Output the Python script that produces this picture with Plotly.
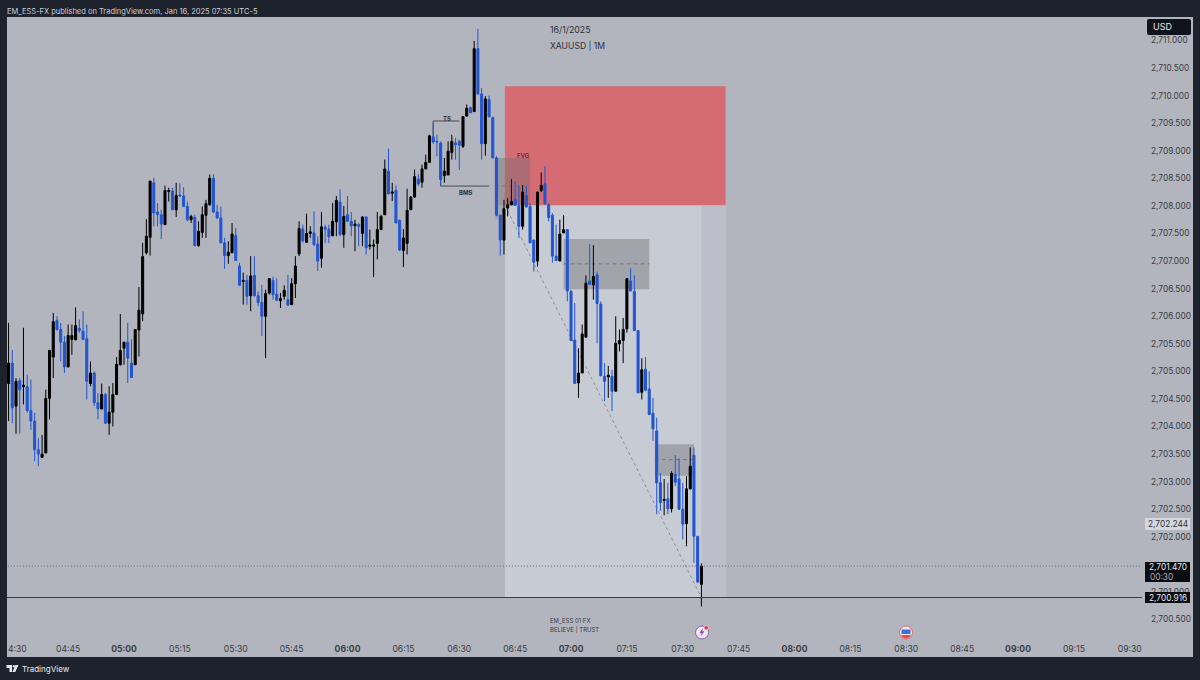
import pandas as pd
import plotly.graph_objects as go

start_time = "2025-01-16 04:29"
opens = [2704.78,2705.15,2704.37,2704.83,2704.72,2704.72,2704.29,2704.10,2703.58,2703.44,2703.52,2704.51,2705.26,2705.92,2705.76,2705.53,2705.08,2705.58,2705.57,2705.78,2705.73,2705.59,2704.78,2704.97,2704.43,2704.32,2704.58,2704.06,2704.26,2704.58,2705.12,2705.42,2705.53,2705.15,2705.12,2705.75,2706.04,2707.15,2707.43,2708.42,2707.89,2707.84,2707.66,2708.26,2708.27,2707.93,2708.20,2708.18,2707.99,2707.75,2707.79,2707.28,2707.52,2707.83,2708.02,2708.50,2707.89,2707.78,2707.33,2707.10,2707.15,2707.46,2706.91,2706.63,2706.65,2706.37,2706.74,2706.37,2706.25,2706.00,2706.42,2706.65,2706.40,2706.28,2706.36,2706.30,2706.21,2706.59,2707.13,2707.58,2707.34,2707.50,2707.51,2707.31,2707.05,2707.61,2707.58,2707.46,
2707.71,2708.07,2707.48,2707.84,2707.72,2707.64,2707.66,2707.50,2707.80,2707.27,2707.27,2707.32,2707.57,2707.84,2708.63,2708.23,2708.28,2707.74,2707.19,2707.32,2707.93,2708.16,2708.49,2708.43,2708.67,2708.79,2709.25,2709.17,2709.14,2708.55,2708.56,2708.97,2709.14,2709.17,2709.08,2709.63,2709.78,2709.71,2710.85,2710.03,2709.13,2709.93,2709.60,
2708.87,2707.83,2707.38,2707.96,2708.02,2708.11,2708.00,2707.63,2708.19,2707.99,2707.38,2707.00,2708.28,2708.40,2708.02,2707.83,2707.09,2707.00,2707.51,2707.57,2706.45,2705.57,2704.79,2704.97,2705.62,2706.64,2706.57,2706.75,2706.22,2704.91,2704.90,2704.91,2704.64,2705.50,2705.56,2705.77,2706.64,2706.45,2705.74,2704.62,2705.04,2704.68,
2704.24,2703.92,2702.98,2702.66,2702.69,2702.51,2703.13,2703.05,2702.50,2702.24,2702.87,2703.48,2702.01,2701.14]
closes = [2705.15,2704.34,2704.82,2704.67,2704.75,2704.29,2704.10,2703.58,2703.50,2703.50,2704.51,2705.38,2705.90,2705.76,2705.53,2705.08,2705.65,2705.65,2705.83,2705.74,2705.58,2704.82,2704.97,2704.43,2704.32,2704.58,2704.06,2704.26,2704.58,2705.13,2705.38,2705.53,2705.24,2704.89,2705.76,2706.11,2707.08,2707.45,2708.45,2707.87,2707.84,2707.67,2708.28,2708.28,2707.93,2708.19,2708.18,2707.99,2707.75,2707.81,2707.28,2707.54,2707.84,2708.04,2708.50,2707.89,2707.78,2707.33,2707.10,2707.16,2707.49,2707.01,2706.56,2706.65,2706.36,2706.73,2706.37,2706.25,2706.00,2706.41,2706.68,2706.39,2706.29,2706.32,2706.47,2706.20,2706.59,2706.91,2707.59,2707.37,2707.50,2707.53,2707.30,2707.00,2707.62,2707.58,2707.44,2707.72,
2708.10,2707.48,2707.81,2707.72,2707.64,2707.67,2707.63,2707.80,2707.24,2707.29,2707.29,2707.57,2707.81,2708.67,2708.22,2708.25,2707.69,2707.20,2707.42,2707.92,2708.16,2708.53,2708.40,2708.67,2708.79,2709.27,2709.16,2709.16,2708.48,2708.63,2708.99,2709.17,2709.11,2709.10,2709.62,2709.77,2709.69,2710.85,2710.03,2709.13,2709.94,2709.62,2708.87,
2707.83,2707.38,2707.95,2708.02,2708.08,2708.01,2707.63,2708.25,2707.98,2707.33,2706.98,2708.25,2708.37,2708.04,2707.79,2707.09,2707.01,2707.49,2707.57,2706.46,2705.56,2704.78,2704.97,2705.68,2706.60,2706.58,2706.72,2706.23,2704.92,2704.82,2704.93,2704.64,2705.51,2705.56,2705.76,2706.68,2706.46,2705.74,2704.61,2705.03,2704.66,2704.22,
2703.96,2702.98,2702.62,2702.68,2702.51,2703.15,2702.99,2702.50,2702.23,2702.87,2703.28,2702.01,2701.18,2701.47]
highs = [2705.88,2705.39,2704.88,2704.88,2705.79,2704.94,2704.85,2704.25,2703.79,2703.85,2704.67,2705.39,2706.06,2706.00,2705.88,2705.64,2705.85,2705.85,2706.16,2705.94,2706.09,2705.85,2705.18,2705.00,2704.61,2704.78,2704.61,2704.73,2704.79,2705.26,2706.04,2705.53,2705.88,2705.58,2705.76,2706.53,2707.33,2707.76,2708.45,2708.51,2708.05,2707.93,2708.37,2708.33,2708.33,2708.42,2708.41,2708.34,2708.08,2707.84,2707.84,2707.72,2707.99,2708.11,2708.57,2708.57,2708.02,2707.99,2707.42,2707.36,2707.69,2707.60,2706.97,2706.79,2706.75,2707.09,2707.09,2706.45,2706.57,2706.48,2706.69,2706.72,2706.69,2706.42,2706.56,2706.75,2706.69,2707.09,2707.72,2707.66,2707.86,2707.63,2707.90,2707.45,2707.89,2707.66,2707.66,2708.05,
2708.18,2708.30,2708.00,2708.18,2707.89,2707.75,2707.69,2707.81,2707.81,2707.57,2707.39,2707.89,2707.84,2708.84,2709.04,2708.42,2708.37,2707.75,2707.58,2708.31,2708.18,2708.66,2708.57,2708.75,2708.93,2709.29,2709.51,2709.29,2709.17,2708.87,2709.17,2709.29,2709.23,2709.20,2709.63,2709.84,2709.80,2710.99,2711.21,2710.14,2709.99,2710.00,2709.62,
2708.90,2707.84,2708.11,2708.14,2708.49,2708.45,2708.37,2708.38,2708.36,2708.05,2707.39,2708.26,2708.61,2708.72,2708.05,2707.87,2707.66,2707.75,2707.83,2707.58,2706.48,2706.24,2705.42,2705.85,2706.74,2707.31,2707.29,2706.81,2706.27,2705.15,2705.10,2705.03,2706.00,2705.76,2705.97,2706.69,2706.87,2706.74,2705.74,2705.24,2705.26,2705.00,
2704.52,2704.16,2703.16,2703.05,2702.98,2703.19,2703.48,2703.42,2702.98,2703.10,2703.62,2703.62,2702.01,2701.52]
lows = [2704.10,2704.06,2703.87,2703.87,2704.40,2704.25,2703.94,2703.37,2703.28,2703.43,2703.52,2704.13,2704.88,2705.74,2705.18,2704.97,2705.08,2705.30,2705.57,2705.70,2705.58,2704.49,2704.73,2704.37,2704.13,2704.31,2704.06,2703.85,2704.00,2704.58,2705.11,2705.12,2704.79,2704.88,2705.12,2705.27,2705.91,2707.12,2707.10,2707.63,2707.63,2707.40,2707.66,2708.08,2707.93,2707.80,2708.16,2707.99,2707.72,2707.69,2707.28,2707.26,2707.42,2707.42,2708.01,2707.87,2707.76,2707.33,2706.86,2706.95,2707.15,2707.00,2706.56,2706.21,2706.21,2706.09,2706.36,2706.18,2705.64,2705.24,2706.39,2706.30,2706.27,2706.15,2706.30,2706.20,2706.20,2706.33,2707.09,2707.33,2707.33,2707.42,2707.27,2706.82,2706.88,2707.33,2707.33,2707.45,
2707.45,2707.45,2707.24,2707.72,2707.45,2707.18,2707.27,2707.27,2707.12,2707.21,2706.71,2707.03,2707.57,2707.84,2708.21,2708.09,2707.69,2707.18,2706.89,2707.12,2707.93,2708.15,2708.36,2708.33,2708.66,2708.78,2709.13,2708.90,2708.36,2708.42,2708.57,2708.84,2708.84,2708.65,2709.05,2709.62,2709.68,2709.71,2710.02,2708.84,2708.91,2709.60,2708.87,
2707.81,2707.10,2707.12,2707.81,2708.02,2708.00,2707.42,2707.57,2707.98,2707.33,2706.81,2706.90,2708.25,2708.02,2707.72,2706.97,2707.00,2707.00,2707.51,2706.27,2705.56,2704.78,2704.52,2704.97,2705.62,2706.57,2706.30,2705.51,2704.91,2704.46,2704.52,2704.28,2704.64,2705.36,2705.15,2705.70,2706.45,2705.73,2704.61,2704.49,2704.64,2704.21,
2703.74,2702.41,2702.47,2702.39,2702.41,2702.44,2702.92,2702.49,2701.95,2701.83,2702.86,2701.53,2701.17,2700.74]

# 2,701.500 sits completely behind the last-price badge in the reference
price_ticks = [2700.5, 2701.0] + [2702.0 + 0.5 * k for k in range(19)]
time_ticks = ["04:45","05:00","05:15","05:30","05:45","06:00","06:15","06:30","06:45","07:00","07:15","07:30","07:45","08:00","08:15","08:30","08:45","09:00","09:15","09:30"]
day = "2025-01-16 "

times = pd.date_range(start_time, periods=len(opens), freq="min")

W, H = 1200, 680
L, R, T, B = 7, 58, 17, 40
pw, ph = W - L - R, H - T - B
def px(x): return (x - L) / pw
def py(y): return (H - B - y) / ph

DARK = "#1e222d"
PANEL = "#b2b5be"
UP = "#000000"
DOWN = "#2255d2"

fig = go.Figure(go.Candlestick(
    x=times, open=opens, high=highs, low=lows, close=closes,
    increasing=dict(line=dict(color=UP, width=1), fillcolor=UP),
    decreasing=dict(line=dict(color=DOWN, width=1), fillcolor=DOWN),
    hoverinfo="skip",
))

def paper_rect(x0, y0, x1, y1, fill, layer="below", line=None):
    return dict(type="rect", xref="paper", yref="paper", x0=px(x0), x1=px(x1), y0=py(y0), y1=py(y1),
                fillcolor=fill, line=line or dict(width=0), layer=layer)

def data_rect(t0, t1, p0, p1, fill):
    return dict(type="rect", xref="x", yref="y", x0=day + t0, x1=day + t1, y0=p0, y1=p1,
                fillcolor=fill, line=dict(width=0), layer="below")

def data_line(t0, p0, t1, p1, color, width=1, dash="solid", layer="below"):
    return dict(type="line", xref="x", yref="y", x0=day + t0, x1=day + t1, y0=p0, y1=p1,
                line=dict(color=color, width=width, dash=dash), layer=layer)

shapes = [
    paper_rect(7, 17, 1193, 657, PANEL),
    data_rect("06:42:15", "07:41:30", 2700.90, 2708.01, "#c7cbd4"),
    data_rect("07:35", "07:41:30", 2700.90, 2708.01, "#bcbfc9"),
    data_rect("06:42:15", "07:41:30", 2708.01, 2710.17, "#d56c74"),
    data_rect("06:39:30", "06:49", 2708.01, 2708.87, "rgba(120,110,115,0.45)"),
    data_rect("06:39:30", "06:42:15", 2707.75, 2708.01, "rgba(120,120,125,0.22)"),
    data_line("06:42:15", 2708.01, "07:35", 2700.90, "#8d9099", 1, "3px,3px"),
    data_rect("06:58", "07:21", 2706.49, 2707.40, "rgba(110,110,115,0.42)"),
    data_line("06:58", 2706.95, "07:21", 2706.95, "#75767d", 1, "4px,3px"),
    data_rect("07:22:30", "07:33", 2703.11, 2703.68, "rgba(110,110,115,0.42)"),
    data_line("07:22:30", 2703.40, "07:33", 2703.40, "#75767d", 1, "4px,3px"),
    data_line("06:23", 2709.54, "06:30", 2709.54, "#4a4c55"),
    data_line("06:23", 2709.17, "06:23", 2709.54, "#4a4c55"),
    data_line("06:25", 2708.36, "06:38", 2708.36, "#4a4c55"),
    data_line("06:25", 2708.36, "06:25", 2708.48, "#4a4c55"),
    data_line("06:39:30", 2708.36, "06:49", 2708.36, "#75767d", 1, "4px,3px"),
    data_line("04:28", 2701.47, "09:34", 2701.47, "#5f6269", 1, "1px,2px", "above"),
    data_line("04:28", 2700.90, "09:34", 2700.90, "#3a3c44", 1, "solid", "above"),
    # chrome above the axis labels
    paper_rect(1145, 518, 1190, 530, "#d4d7de", "above"),
    paper_rect(1145, 562, 1190, 582, "#0b0c10", "above"),
    paper_rect(1145, 592, 1190, 603, "#0b0c10", "above"),
    dict(type="path", xref="paper", yref="paper", layer="above", fillcolor="#10131b", line=dict(width=0),
         path=f"M{px(1149)},{py(19)} L{px(1189)},{py(19)} Q{px(1191)},{py(19)} {px(1191)},{py(21)} L{px(1191)},{py(33)} Q{px(1191)},{py(35)} {px(1189)},{py(35)} L{px(1149)},{py(35)} Q{px(1147)},{py(35)} {px(1147)},{py(33)} L{px(1147)},{py(21)} Q{px(1147)},{py(19)} {px(1149)},{py(19)} Z"),
    # TradingView mark
    dict(type="path", xref="paper", yref="paper", layer="above", fillcolor="#e8e9ee", line=dict(width=0),
         path=f"M{px(6.5)},{py(665)} L{px(12)},{py(665)} L{px(12)},{py(672)} L{px(9.5)},{py(672)} L{px(9.5)},{py(668)} L{px(6.5)},{py(668)} Z"),
    dict(type="circle", xref="paper", yref="paper", layer="above", fillcolor="#e8e9ee", line=dict(width=0),
         x0=px(12.5), x1=px(15), y0=py(665), y1=py(667.6)),
    dict(type="path", xref="paper", yref="paper", layer="above", fillcolor="#e8e9ee", line=dict(width=0),
         path=f"M{px(15.5)},{py(665)} L{px(18.5)},{py(665)} L{px(15.2)},{py(672)} L{px(12.4)},{py(672)} Z"),
    # session event badge
    dict(type="circle", xref="paper", yref="paper", layer="above", fillcolor="#f1e9f4", line=dict(color="#9b57b8", width=1),
         x0=px(695.5), x1=px(708.5), y0=py(626), y1=py(639)),
    dict(type="path", xref="paper", yref="paper", layer="above", fillcolor="#8e44ad", line=dict(width=0),
         path=f"M{px(703)},{py(628)} L{px(699.5)},{py(633)} L{px(701.8)},{py(633)} L{px(700.5)},{py(636.5)} L{px(704.5)},{py(631.2)} L{px(702.2)},{py(631.2)} Z"),
    dict(type="circle", xref="paper", yref="paper", layer="above", fillcolor="#e8394f", line=dict(color="#f4e6ee", width=0.7),
         x0=px(704), x1=px(708.5), y0=py(625.5), y1=py(630)),
    # US calendar badge
    dict(type="circle", xref="paper", yref="paper", layer="above", fillcolor="#f1e9f4", line=dict(color="#e06a6f", width=1),
         x0=px(899.5), x1=px(912.5), y0=py(626), y1=py(639)),
    paper_rect(901.5, 629.5, 910.5, 634, "#3f6fd8", "above"),
    dict(type="path", xref="paper", yref="paper", layer="above", fillcolor="#e2504f", line=dict(width=0),
         path=f"M{px(901)},{py(635)} L{px(911)},{py(635)} Q{px(909.5)},{py(638.4)} {px(906)},{py(638.4)} Q{px(902.5)},{py(638.4)} {px(901)},{py(635)} Z"),
]

def label(x, y, text, size=9, color="#2e3038", anchor="left", family="Inter"):
    return dict(xref="paper", yref="paper", x=px(x), y=py(y), text=text, showarrow=False, xanchor=anchor, yanchor="middle",
                font=dict(family=family, size=size, color=color), align="left")

annotations = [
    label(5, 11, "EM_ESS-FX published on TradingView.com, Jan 16, 2025 07:35 UTC-5", 7.5, "#ccd0d8"),
    label(20, 669, "TradingView", 8, "#e8e9ee"),
    label(6, 649, "4:30", 8.6, "#3a3c44"),
    label(548, 30, "16/1/2025", 8.8),
    label(548, 45, "XAUUSD | 1M", 8.6),
    label(446.5, 118, "<b>TS</b>", 6, anchor="center"),
    label(465.5, 192, "<b>BMS</b>", 6, anchor="center"),
    label(523.5, 155, "<b>FVG</b>", 6, "#7d2a33", anchor="center"),
    label(548, 620, "EM_ESS 01 FX", 6, "#3a3c44"),
    label(548, 630, "BELIEVE | TRUST", 6, "#3a3c44"),
    label(1151, 27, "USD", 9, "#e6e8ee"),
    label(1168, 524, "2,702.244", 8.3, "#2e3038", "center"),
    label(1168, 567, "2,701.470", 8.3, "#e6e8ee", "center"),
    label(1161, 577, "00:30", 8.3, "#a9acb5", "center"),
    label(1168, 597.5, "2,700.916", 8.3, "#e6e8ee", "center"),
]

fig.update_layout(
    width=W, height=H, margin=dict(l=L, r=R, t=T, b=B),
    paper_bgcolor=DARK, plot_bgcolor=PANEL,
    showlegend=False, boxgap=0.22, shapes=shapes, annotations=annotations,
    font=dict(family="Inter", size=9, color="#3a3c44"),
    xaxis=dict(
        type="date", range=[day + "04:28:35", day + "09:33:17"], rangeslider=dict(visible=False),
        tickvals=[day + t for t in time_ticks],
        ticktext=[f"<b>{t}</b>" if t.endswith(":00") else t for t in time_ticks],
        ticks="", showgrid=False, zeroline=False, showline=False, ticklabelstandoff=2,
        tickangle=0,
        tickfont=dict(family="Inter", size=8.6, color="#3a3c44"),
    ),
    yaxis=dict(
        side="right", range=[2700.13, 2711.425], tickvals=price_ticks, tickformat=",.3f",
        ticks="", showgrid=False, zeroline=False, showline=False, ticklabelstandoff=8,
        tickfont=dict(family="Inter", size=8.3, color="#3a3c44"),
    ),
)

fig.write_html("out.html", config=dict(displayModeBar=False), post_script="document.body.style.margin='0';")
